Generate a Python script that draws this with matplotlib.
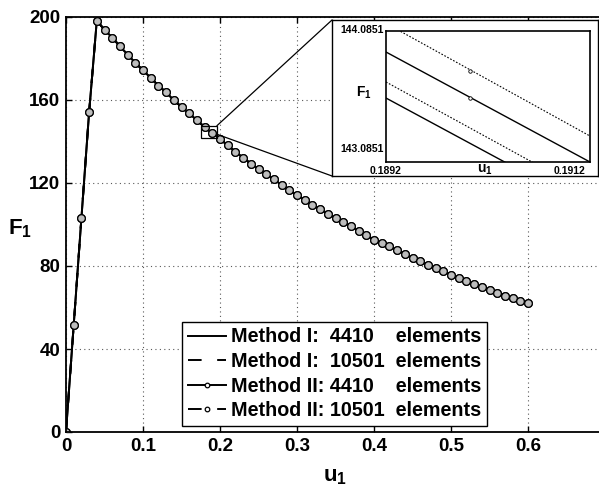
import numpy as np
import matplotlib
matplotlib.use("Agg")
import matplotlib.pyplot as plt
from matplotlib.patches import Rectangle, ConnectionPatch

plt.rcParams["font.family"] = ["Liberation Sans", "DejaVu Sans"]
plt.rcParams["font.weight"] = "bold"
plt.rcParams["mathtext.fontset"] = "custom"
plt.rcParams["mathtext.rm"] = "Liberation Sans:bold"
plt.rcParams["mathtext.bf"] = "Liberation Sans:bold"

# main curve (all four runs overlap at this scale)
u1 = [0.00, 0.01, 0.02, 0.03, 0.04, 0.05, 0.06, 0.07, 0.08, 0.09,
      0.10, 0.11, 0.12, 0.13, 0.14, 0.15, 0.16, 0.17, 0.18, 0.19,
      0.20, 0.21, 0.22, 0.23, 0.24, 0.25, 0.26, 0.27, 0.28, 0.29,
      0.30, 0.31, 0.32, 0.33, 0.34, 0.35, 0.36, 0.37, 0.38, 0.39,
      0.40, 0.41, 0.42, 0.43, 0.44, 0.45, 0.46, 0.47, 0.48, 0.49,
      0.50, 0.51, 0.52, 0.53, 0.54, 0.55, 0.56, 0.57, 0.58, 0.59, 0.60]
F1 = [0.0, 51.5, 103.0, 154.0, 198.3, 193.8, 190.1, 185.9, 181.9, 177.9,
      174.3, 170.7, 166.9, 163.7, 159.9, 156.7, 153.5, 150.3, 146.9, 143.9,
      141.3, 138.1, 135.1, 132.2, 129.3, 126.8, 124.1, 121.7, 119.1, 116.5,
      114.1, 111.9, 109.5, 107.4, 105.3, 103.1, 101.2, 99.1, 97.0, 94.8,
      92.7, 91.1, 89.4, 87.6, 85.8, 83.9, 82.2, 80.6, 79.0, 77.4,
      75.8, 74.2, 72.6, 71.3, 69.9, 68.4, 67.2, 65.7, 64.4, 63.0, 62.0]

# zoomed-in values near u1 = 0.19 (ends of each segment + marker point)
u_zoom = [0.1892, 0.1912]
F_m1_4410 = [143.517, 142.585]
F_m1_10501 = [143.653, 142.706]
F_m2_4410 = [143.907, 142.975]
F_m2_10501 = [144.150, 143.195]
u_mark = [0.19002]
F_mark_4410 = [143.517]
F_mark_10501 = [143.746]

labels = ["Method I:  4410    elements",
          "Method I:  10501  elements",
          "Method II: 4410    elements",
          "Method II: 10501  elements"]

W, H = 599, 495
fig = plt.figure(figsize=(W / 100, H / 100), dpi=100)

def px(x0, y0, x1, y1):
    return [x0 / W, 1 - y1 / H, (x1 - x0) / W, (y1 - y0) / H]

ax = fig.add_axes(px(66, 17, 66 + 539, 432))
gray = "#bdbdbd"
dash = (0, (7, 8))
ax.plot(u1, F1, "-", color="k", lw=1.4, label=labels[0])
ax.plot(u1, F1, linestyle=dash, color="k", lw=1.4, label=labels[1])
ax.plot(u1, F1, "-o", color="k", lw=1.4, ms=5.5, mfc=gray, mec="k", mew=0.9,
        label=labels[2])
ax.plot(u1, F1, marker="o", linestyle=dash, color="k", lw=1.4, ms=5.5,
        mfc=gray, mec="k", mew=0.9, label=labels[3])

ax.set_xlim(0, 0.7)
ax.set_ylim(0, 200)
ax.set_xticks([0, 0.1, 0.2, 0.3, 0.4, 0.5, 0.6])
ax.set_xticklabels(["0", "0.1", "0.2", "0.3", "0.4", "0.5", "0.6"])
ax.set_yticks([0, 40, 80, 120, 160, 200])
ax.tick_params(direction="in", length=4, width=1, labelsize=13.5, pad=4,
               top=True, right=True)
for s in ax.spines.values():
    s.set_linewidth(1.3)
ax.grid(True, color="0.35", linestyle=(0, (1, 3)), lw=0.8)
ax.set_xlabel(r"$\mathbf{u_1}$", fontsize=16, labelpad=8)
ax.set_ylabel(r"$\mathbf{F_1}$", fontsize=16, rotation=0, va="center")
ax.yaxis.set_label_coords(-0.085, 0.49)

leg = ax.legend(loc="lower left", bbox_to_anchor=(0.215, 0.0145),
                borderaxespad=0, fontsize=14.2, handlelength=1.95,
                handletextpad=0.25, labelspacing=0.28, borderpad=0.3,
                fancybox=False, framealpha=1, edgecolor="k", markerscale=0.6)
leg.get_frame().set_linewidth(1.0)
for h in leg.legend_handles:
    h.set_markerfacecolor("white")

# zoom rectangle on the main plot
rect = Rectangle((0.175, 141.5), 0.021, 6.1, fill=False, ec="k", lw=0.9, zorder=5)
ax.add_patch(rect)

# inset frame and inset axes
box = fig.add_axes(px(332, 20, 598, 176))
box.set_xticks([])
box.set_yticks([])
box.set_facecolor("white")
for s in box.spines.values():
    s.set_linewidth(1.0)

ins = fig.add_axes(px(386, 31, 590, 162))
ins.plot(u_zoom, F_m1_4410, "-", color="k", lw=1.0)
ins.plot(u_zoom, F_m1_10501, color="k", lw=0.8, linestyle=(0, (1.5, 1.5)))
ins.plot(u_zoom, F_m2_4410, "-", color="k", lw=1.0)
ins.plot(u_zoom, F_m2_10501, color="k", lw=0.8, linestyle=(0, (1.5, 1.5)))
ins.plot(u_mark, F_mark_4410, "o", ms=2.5, mfc="white", mec="k", mew=0.6)
ins.plot(u_mark, F_mark_10501, "o", ms=2.5, mfc="white", mec="k", mew=0.6)
ins.set_xlim(0.1892, 0.1912)
ins.set_ylim(142.975, 144.0851)
ins.set_xticks([])
ins.set_yticks([])
for s in ins.spines.values():
    s.set_linewidth(1.2)

tk = dict(fontsize=7.5, fontweight="bold", transform=fig.transFigure)
fig.text(384 / W, 1 - 30 / H, "144.0851", ha="right", va="center", **tk)
fig.text(384 / W, 1 - 149 / H, "143.0851", ha="right", va="center", **tk)
fig.text(386 / W, 1 - 171 / H, "0.1892", ha="center", va="center", **tk)
fig.text(570 / W, 1 - 171 / H, "0.1912", ha="center", va="center", **tk)
fig.text(485 / W, 1 - 170 / H, r"$\mathbf{u_1}$", ha="center", va="center",
         fontsize=10, transform=fig.transFigure)
fig.text(364 / W, 1 - 93 / H, r"$\mathbf{F_1}$", ha="center", va="center",
         fontsize=10, transform=fig.transFigure)

# connector lines from zoom rectangle to the inset frame
for (xa, ya), (xb, yb) in [((0.196, 147.6), (0, 1)), ((0.196, 143.5), (0, 0))]:
    con = ConnectionPatch(xyA=(xa, ya), coordsA=ax.transData,
                          xyB=(xb, yb), coordsB=box.transAxes,
                          color="k", lw=0.9)
    fig.add_artist(con)

fig.savefig("out.png", dpi=100)
